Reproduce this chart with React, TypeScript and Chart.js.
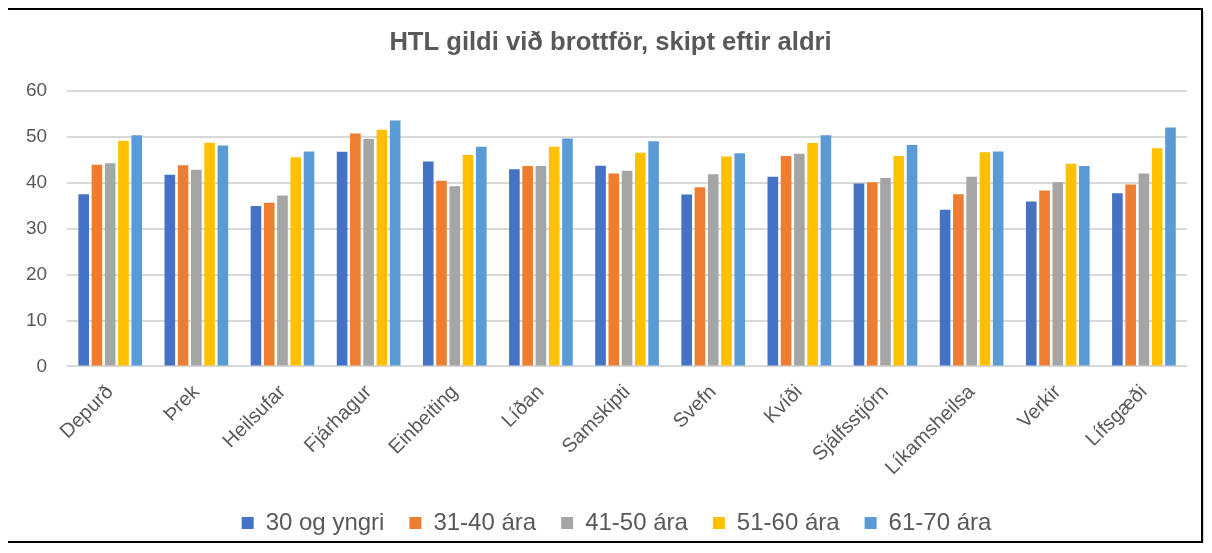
import React, { useEffect, useRef } from "react";
import { Chart, registerables } from "chart.js";

Chart.register(...registerables);

const categories = [
  "Depurð", "Þrek", "Heilsufar", "Fjárhagur", "Einbeiting", "Líðan", "Samskipti",
  "Svefn", "Kvíði", "Sjálfsstjórn", "Líkamsheilsa", "Verkir", "Lífsgæði",
];

const seriesNames = ["30 og yngri", "31-40 ára", "41-50 ára", "51-60 ára", "61-70 ára"];
const seriesColors = ["#4472C4", "#ED7D31", "#A5A5A5", "#FFC000", "#5B9BD5"];

const age30 = [37.5, 41.7, 34.9, 46.7, 44.6, 42.9, 43.7, 37.4, 41.3, 39.8, 34.1, 35.9, 37.7];
const age31_40 = [43.9, 43.8, 35.6, 50.7, 40.4, 43.6, 42.0, 39.0, 45.8, 40.1, 37.5, 38.3, 39.6];
const age41_50 = [44.2, 42.8, 37.2, 49.5, 39.2, 43.6, 42.6, 41.8, 46.3, 41.0, 41.3, 40.1, 42.0];
const age51_60 = [49.1, 48.7, 45.5, 51.5, 46.0, 47.8, 46.5, 45.7, 48.6, 45.8, 46.6, 44.1, 47.5];
const age61_70 = [50.3, 48.1, 46.8, 53.5, 47.8, 49.6, 49.0, 46.4, 50.3, 48.2, 46.8, 43.6, 52.0];

const seriesValues = [age30, age31_40, age41_50, age51_60, age61_70];

const yTicks = [0, 10, 20, 30, 40, 50, 60];
const titleText = "HTL gildi við brottför, skipt eftir aldri";

const FONT = "'Liberation Sans', Arial, sans-serif";
const TEXT = "#595959";

const shiftBlocks = {
  id: "shiftBlocks",
  afterLayout(chart: any) {
    const l = chart.legend;
    if (l) {
      l.left += 20;
      l.right += 20;
    }
    const t = chart.titleBlock;
    if (t) {
      t.left += 14;
      t.right += 14;
    }
  },
};

export default function App() {
  const ref = useRef<HTMLCanvasElement | null>(null);

  useEffect(() => {
    if (!ref.current) return;
    const chart = new Chart(ref.current, {
      type: "bar",
      data: {
        labels: categories,
        datasets: seriesNames.map((name, i) => ({
          label: name,
          data: seriesValues[i],
          backgroundColor: seriesColors[i],
          borderWidth: 0,
          categoryPercentage: 0.77,
          barPercentage: 0.8,
        })),
      },
      plugins: [shiftBlocks],
      options: {
        responsive: false,
        animation: false,
        layout: { padding: { left: -2, right: 14, top: 0, bottom: -4 } },
        plugins: {
          title: {
            display: true,
            text: titleText,
            color: TEXT,
            font: { family: FONT, size: 25.6, weight: "bold" },
            padding: { top: 18, bottom: 32 },
          },
          legend: {
            position: "bottom",
            labels: {
              color: TEXT,
              font: { family: FONT, size: 24 },
              boxWidth: 12,
              boxHeight: 12,
              padding: 25,
            },
          },
          tooltip: { enabled: false },
        },
        scales: {
          x: {
            grid: { display: false },
            border: { display: false },
            afterFit: (scale: any) => {
              scale.paddingLeft = 0;
              scale.paddingRight = 0;
            },
            ticks: {
              color: TEXT,
              font: { family: FONT, size: 20 },
              minRotation: 45,
              maxRotation: 45,
              padding: 6,
            },
          },
          y: {
            min: 0,
            max: 60,
            afterBuildTicks: (axis: any) => {
              axis.ticks = yTicks.map((v) => ({ value: v }));
            },
            grid: { color: "#D9D9D9", lineWidth: 2, drawTicks: false },
            border: { display: false },
            ticks: {
              color: TEXT,
              font: { family: FONT, size: 19 },
              padding: 20,
            },
          },
        },
      },
    });
    return () => chart.destroy();
  }, []);

  return (
    <div
      style={{
        marginLeft: -2,
        width: 1197,
        height: 535,
        border: "2px solid #000",
        boxSizing: "border-box",
        background: "#fff",
        boxShadow: "1px 3px 0 #d9d9d9",
      }}
    >
      <canvas ref={ref} width={1193} height={531} style={{ display: "block" }} />
    </div>
  );
}
